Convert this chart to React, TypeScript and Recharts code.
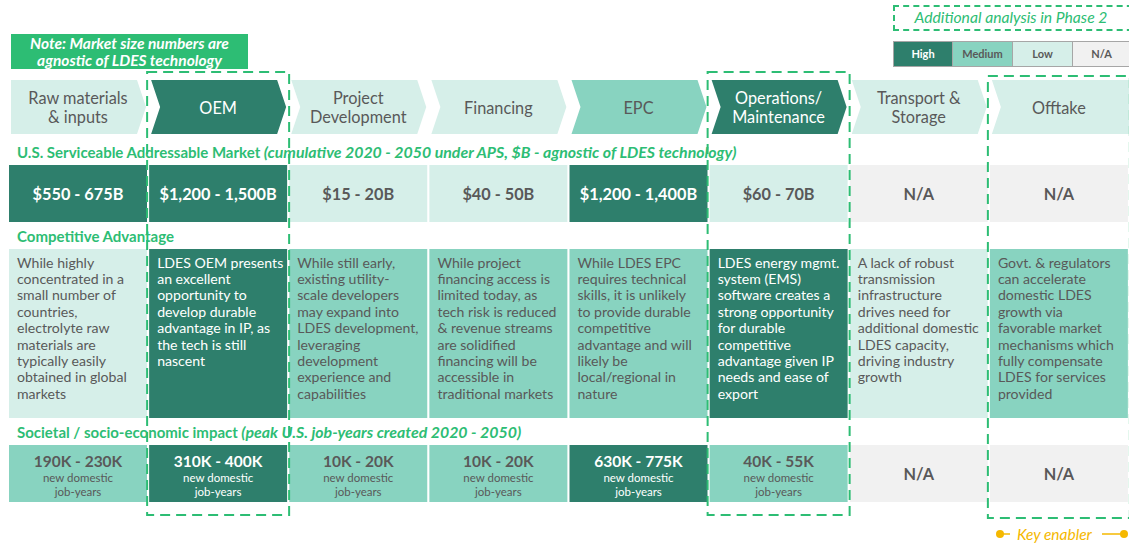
import React from "react";
import { BarChart, Bar, XAxis, YAxis } from "recharts";

document.body.style.margin = "0";

const stages = [
  "Raw materials\n& inputs",
  "OEM",
  "Project\nDevelopment",
  "Financing",
  "EPC",
  "Operations/\nMaintenance",
  "Transport &\nStorage",
  "Offtake",
];
const stageLevel = ["low", "high", "low", "low", "medium", "high", "low", "low"];

const samLabels = [
  "$550 - 675B",
  "$1,200 - 1,500B",
  "$15 - 20B",
  "$40 - 50B",
  "$1,200 - 1,400B",
  "$60 - 70B",
  "N/A",
  "N/A",
];
const samLevel = ["high", "high", "low", "low", "high", "low", "na", "na"];

const advantageText = [
  ["While highly", "concentrated in a", "small number of", "countries,", "electrolyte raw", "materials are", "typically easily", "obtained in global", "markets"],
  ["LDES OEM presents", "an excellent", "opportunity to", "develop durable", "advantage in IP, as", "the tech is still", "nascent"],
  ["While still early,", "existing utility-", "scale developers", "may expand into", "LDES development,", "leveraging", "development", "experience and", "capabilities"],
  ["While project", "financing access is", "limited today, as", "tech risk is reduced", "& revenue streams", "are solidified", "financing will be", "accessible in", "traditional markets"],
  ["While LDES EPC", "requires technical", "skills, it is unlikely", "to provide durable", "competitive", "advantage and will", "likely be", "local/regional in", "nature"],
  ["LDES energy mgmt.", "system (EMS)", "software creates a", "strong opportunity", "for durable", "competitive", "advantage given IP", "needs and ease of", "export"],
  ["A lack of robust", "transmission", "infrastructure", "drives need for", "additional domestic", "LDES capacity,", "driving industry", "growth"],
  ["Govt. & regulators", "can accelerate", "domestic LDES", "growth via", "favorable market", "mechanisms which", "fully compensate", "LDES for services", "provided"],
];
const advantageLevel = ["low", "high", "medium", "medium", "medium", "high", "low", "medium"];

const jobLabels = ["190K - 230K", "310K - 400K", "10K - 20K", "10K - 20K", "630K - 775K", "40K - 55K", "N/A", "N/A"];
const jobLevel = ["medium", "high", "medium", "medium", "high", "medium", "na", "na"];

const keyEnabler = [false, true, false, false, false, true, false, true];

const levelNames = ["High", "Medium", "Low", "N/A"];
const levelKeys = ["high", "medium", "low", "na"];

const LEVELS: Record<string, { fill: string; text: string }> = {
  high: { fill: "#2e7f6c", text: "#ffffff" },
  medium: { fill: "#88d3c0", text: "#595959" },
  low: { fill: "#d6efe9", text: "#595959" },
  na: { fill: "#f1f1f1", text: "#595959" },
};
const GREEN = "#2dbd74";
const ORANGE = "#f5b800";
const FONT = "Lato, 'Open Sans', sans-serif";

const table = stages.map((s, i) => ({ stage: s, i, one: 1 }));

function ChevronShape(props: any) {
  const { x, width, index } = props;
  const top = 80;
  const bottom = 134;
  const mid = (top + bottom) / 2;
  const pt = 9;
  const first = index === 0;
  const last = index === stages.length - 1;
  const left = x + 3;
  const right = last ? x + width + 2 : x + width - 2;
  const pts: number[][] = [[left, top]];
  if (last) {
    pts.push([right, top], [right, bottom]);
  } else {
    pts.push([right - pt, top], [right, mid], [right - pt, bottom]);
  }
  pts.push([left, bottom]);
  if (!first) pts.push([left + pt, mid]);
  const lvl = LEVELS[stageLevel[index]];
  const lines = stages[index].split("\n");
  const cx = x + width / 2;
  return (
    <g>
      <polygon points={pts.map((p) => p.join(",")).join(" ")} fill={lvl.fill} />
      {lines.map((l, k) => (
        <text
          key={k}
          x={cx}
          y={mid + (k - (lines.length - 1) / 2) * 19}
          textAnchor="middle"
          dominantBaseline="central"
          fontFamily={FONT}
          fontSize={16.3}
          fill={lvl.text}
        >
          {l}
        </text>
      ))}
    </g>
  );
}

function SamShape(props: any) {
  const { x, width, index } = props;
  const top = 165;
  const bottom = 222;
  const lvl = LEVELS[samLevel[index]];
  return (
    <g>
      <rect x={x + 1} y={top} width={width - 2} height={bottom - top} fill={lvl.fill} />
      <text
        x={x + width / 2}
        y={(top + bottom) / 2}
        textAnchor="middle"
        dominantBaseline="central"
        fontFamily={FONT}
        fontWeight={700}
        fontSize={16.3}
        fill={lvl.text}
      >
        {samLabels[index]}
      </text>
    </g>
  );
}

function AdvantageShape(props: any) {
  const { x, width, index } = props;
  const top = 249;
  const bottom = 418;
  const lvl = LEVELS[advantageLevel[index]];
  return (
    <g>
      <rect x={x + 1} y={top} width={width - 2} height={bottom - top} fill={lvl.fill} />
      {advantageText[index].map((l, k) => (
        <text
          key={k}
          x={x + 9}
          y={262 + k * 16.4}
          dominantBaseline="central"
          fontFamily={FONT}
          fontSize={14.1}
          fill={lvl.text}
        >
          {l}
        </text>
      ))}
    </g>
  );
}

function JobsShape(props: any) {
  const { x, width, index } = props;
  const top = 445;
  const bottom = 502;
  const lvl = LEVELS[jobLevel[index]];
  const cx = x + width / 2;
  const na = jobLevel[index] === "na";
  return (
    <g>
      <rect x={x + 1} y={top} width={width - 2} height={bottom - top} fill={lvl.fill} />
      <text
        x={cx}
        y={na ? (top + bottom) / 2 : 461}
        textAnchor="middle"
        dominantBaseline="central"
        fontFamily={FONT}
        fontWeight={700}
        fontSize={na ? 16.3 : 15.5}
        fill={lvl.text}
      >
        {jobLabels[index]}
      </text>
      {!na && (
        <>
          <text x={cx} y={477} textAnchor="middle" dominantBaseline="central" fontFamily={FONT} fontSize={11.5} fill={lvl.text}>
            new domestic
          </text>
          <text x={cx} y={491} textAnchor="middle" dominantBaseline="central" fontFamily={FONT} fontSize={11.5} fill={lvl.text}>
            job-years
          </text>
        </>
      )}
    </g>
  );
}

function EnablerShape(props: any) {
  const { x, width, index } = props;
  if (!keyEnabler[index]) return <g />;
  const last = index === stages.length - 1;
  const top = last ? 76 : 72;
  const bottom = last ? 518 : 515;
  return (
    <rect
      x={x - 1}
      y={top}
      width={width + 2}
      height={bottom - top}
      fill="none"
      stroke={GREEN}
      strokeWidth={2}
      strokeDasharray="10 6"
    />
  );
}

function RowHeader({ top, bold, italic }: { top: number; bold: string; italic?: string }) {
  return (
    <div
      style={{
        position: "absolute",
        left: 17,
        top,
        fontFamily: FONT,
        fontWeight: 700,
        fontSize: 15,
        color: GREEN,
        whiteSpace: "nowrap",
        lineHeight: "18px",
      }}
    >
      {bold}
      {italic && <i style={{ fontSize: 15.9 }}> {italic}</i>}
    </div>
  );
}

export default function App() {
  return (
    <div style={{ position: "relative", width: 1129, height: 544, overflow: "hidden", background: "#fff" }}>
      <div style={{ position: "absolute", left: 0, top: 0 }}>
        <BarChart
          width={1129}
          height={544}
          data={table}
          margin={{ top: 0, right: 0, bottom: 0, left: 8 }}
          barCategoryGap={0}
          barGap={0}
        >
          <XAxis dataKey="stage" hide />
          <YAxis hide domain={[0, 10]} />
          <Bar dataKey="one" stackId="c" shape={ChevronShape} isAnimationActive={false} />
          <Bar dataKey="one" stackId="c" shape={SamShape} isAnimationActive={false} />
          <Bar dataKey="one" stackId="c" shape={AdvantageShape} isAnimationActive={false} />
          <Bar dataKey="one" stackId="c" shape={JobsShape} isAnimationActive={false} />
          <Bar dataKey="one" stackId="c" shape={EnablerShape} isAnimationActive={false} />
        </BarChart>
      </div>

      {/* note box */}
      <div
        style={{
          position: "absolute",
          left: 11,
          top: 34,
          width: 237,
          height: 35,
          background: GREEN,
          color: "#fff",
          fontFamily: FONT,
          fontWeight: 700,
          fontStyle: "italic",
          fontSize: 15.5,
          lineHeight: "17px",
          textAlign: "center",
          paddingTop: 1,
          boxSizing: "border-box",
        }}
      >
        Note: Market size numbers are
        <br />
        agnostic of LDES technology
      </div>

      {/* phase 2 box */}
      <div
        style={{
          position: "absolute",
          left: 893,
          top: 5,
          width: 250,
          height: 26,
          border: `2px dashed ${GREEN}`,
          boxSizing: "border-box",
        }}
      />
      <div
        style={{
          position: "absolute",
          left: 893,
          top: 8,
          width: 236,
          textAlign: "center",
          fontFamily: FONT,
          fontStyle: "italic",
          fontSize: 15.7,
          color: GREEN,
        }}
      >
        Additional analysis in Phase 2
      </div>

      {/* legend */}
      <div style={{ position: "absolute", left: 893, top: 41, display: "flex" }}>
        {levelKeys.map((k, i) => (
          <div
            key={k}
            style={{
              width: i === 3 ? 58 : 60,
              height: 26,
              background: LEVELS[k].fill,
              color: LEVELS[k].text,
              border: "1px solid #a6a6a6",
              borderLeftWidth: i === 0 ? 1 : 0,
              boxSizing: "border-box",
              fontFamily: FONT,
              fontWeight: 700,
              fontSize: 11,
              lineHeight: "24px",
              textAlign: "center",
            }}
          >
            {levelNames[i]}
          </div>
        ))}
      </div>

      <RowHeader
        top={143}
        bold="U.S. Serviceable Addressable Market"
        italic="(cumulative 2020 - 2050 under APS, $B - agnostic of LDES technology)"
      />
      <RowHeader top={227} bold="Competitive Advantage" />
      <RowHeader
        top={423}
        bold="Societal / socio-economic impact"
        italic="(peak U.S. job-years created 2020 - 2050)"
      />

      {/* key enabler */}
      <svg style={{ position: "absolute", left: 990, top: 524 }} width={139} height={20}>
        <circle cx={10} cy={10} r={4} fill={ORANGE} />
        <line x1={10} y1={10} x2={20} y2={10} stroke={ORANGE} strokeWidth={1.5} />
        <text x={27} y={10} dominantBaseline="central" fontFamily={FONT} fontStyle="italic" fontSize={15.5} fill={ORANGE}>
          Key enabler
        </text>
        <line x1={112} y1={10} x2={131} y2={10} stroke={ORANGE} strokeWidth={1.5} />
        <circle cx={134} cy={10} r={4} fill={ORANGE} />
      </svg>
    </div>
  );
}
